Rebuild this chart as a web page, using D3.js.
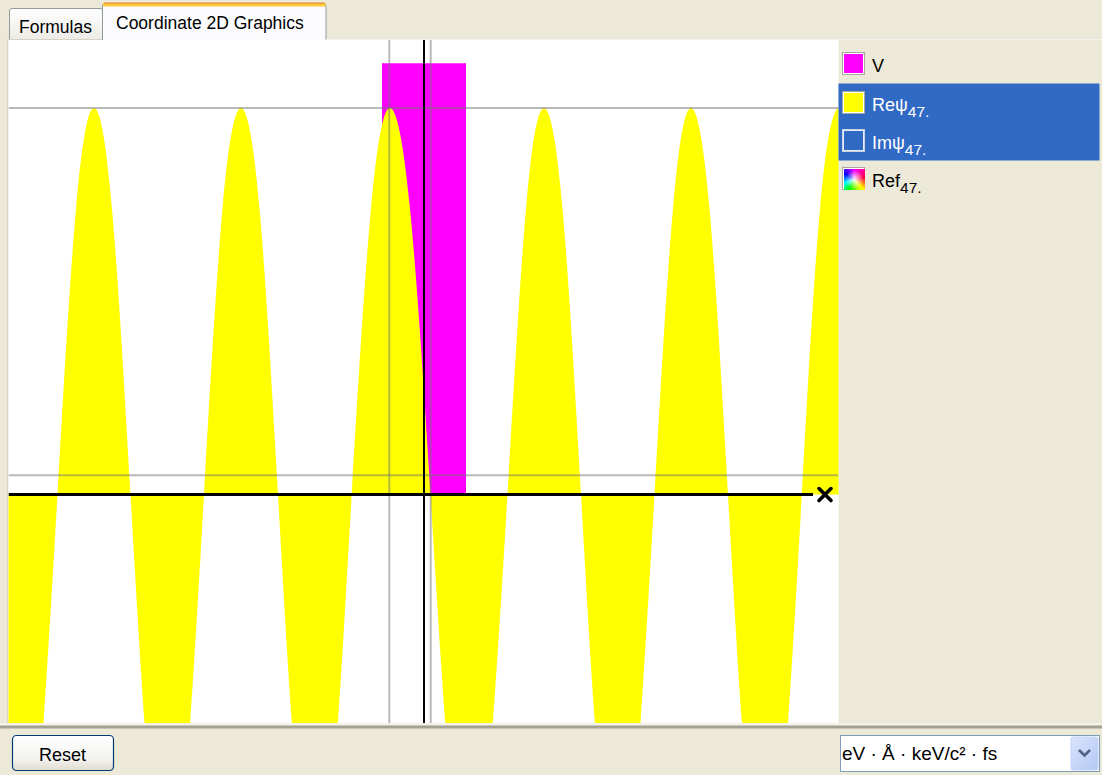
<!DOCTYPE html>
<html>
<head>
<meta charset="utf-8">
<script src="https://cdn.jsdelivr.net/npm/d3@7"></script>
<style>
  html, body { margin: 0; padding: 0; background: #ECE9D8; }
  body { width: 1102px; height: 775px; overflow: hidden; position: relative;
         font-family: "Liberation Sans", Arial, sans-serif; }
  svg { position: absolute; left: 0; top: 0; }
  #refSwatch { position: absolute; width: 21px; height: 21px;
    background: radial-gradient(circle at 50% 50%, rgba(255,255,255,0.95) 0%, rgba(255,255,255,0) 62%),
                conic-gradient(from 0deg, #ff00ff, #ff0040 80deg, #ffff00 140deg, #00ff00 210deg, #00ffff 250deg, #0000ff 300deg, #ff00ff 360deg); }
</style>
</head>
<body>
<svg id="chart" width="1102" height="775"></svg>
<div id="refSwatch"></div>
<script>
// Real part of the wave function: sample points (x in Å, normalised amplitude)
const waveX = [
  -4.40, -4.22, -4.03, -3.85, -3.665, -3.48, -3.30, -3.12, -2.935, -2.75, -2.57, -2.385,
  -2.20, -2.015, -1.83, -1.645, -1.46, -1.275, -1.09, -0.905, -0.723, -0.53, -0.34, -0.14,
  0.065, 0.26, 0.45, 0.64, 0.835, 1.02, 1.20, 1.385, 1.57, 1.755, 1.94, 2.12,
  2.305, 2.49, 2.67, 2.855, 3.04, 3.225, 3.41, 3.595, 3.778, 3.96, 4.15, 4.33, 4.515
];
const waveRe = [
  0, -0.74, -1.0, -0.74, 0, 0.74, 1.0, 0.74, 0, -0.74, -1.0, -0.74,
  0, 0.74, 1.0, 0.74, 0, -0.74, -1.0, -0.74, 0, 0.74, 1.0, 0.74,
  0, -0.74, -1.0, -0.74, 0, 0.74, 1.0, 0.74, 0, -0.74, -1.0, -0.74,
  0, 0.74, 1.0, 0.74, 0, -0.74, -1.0, -0.74, 0, 0.74, 1.0, 0.74, 0
];

// Rectangular potential barrier V(x)
const barrierX = [-0.42, -0.42, 0.42, 0.42];
const barrierV = [0, 1.116, 1.116, 0];

// Guide lines
const guideLevels = [1.0, 0.05];
const guideXs = [-0.347, 0.067];

// Legend
const legendNames = ["V", "Reψ", "Imψ", "Ref"];
const legendSubs = ["", "47.", "47.", "47."];
const legendSelected = [false, true, true, false];

// UI texts
const tabNames = ["Formulas", "Coordinate 2D Graphics"];
const buttonLabel = "Reset";
const unitLabel = "eV · Å · keV/c² · fs";

const svg = d3.select("#chart");
const defs = svg.append("defs");

const plot = { left: 8.5, right: 838.5, top: 40, bottom: 723 };

const x = d3.scaleLinear().domain([-4.155, 4.145]).range([plot.left, plot.right]);
const y = d3.scaleLinear().domain([-0.591, 1.176]).range([plot.bottom, plot.top]);

// ---------- gradients ----------
const gTab = defs.append("linearGradient").attr("id", "gTab").attr("x1", 0).attr("y1", 0).attr("x2", 0).attr("y2", 1);
gTab.append("stop").attr("offset", "0%").attr("stop-color", "#FFFFFF");
gTab.append("stop").attr("offset", "100%").attr("stop-color", "#ECEBE6");

const gBtn = defs.append("linearGradient").attr("id", "gBtn").attr("x1", 0).attr("y1", 0).attr("x2", 0).attr("y2", 1);
gBtn.append("stop").attr("offset", "0%").attr("stop-color", "#FFFFFF");
gBtn.append("stop").attr("offset", "70%").attr("stop-color", "#F3F2EE");
gBtn.append("stop").attr("offset", "100%").attr("stop-color", "#DEDBD0");

const gDrop = defs.append("linearGradient").attr("id", "gDrop").attr("x1", 0).attr("y1", 0).attr("x2", 1).attr("y2", 1);
gDrop.append("stop").attr("offset", "0%").attr("stop-color", "#D9E4FB");
gDrop.append("stop").attr("offset", "100%").attr("stop-color", "#B4C8F4");

defs.append("clipPath").attr("id", "plotClip")
  .append("rect").attr("x", plot.left).attr("y", plot.top)
  .attr("width", plot.right - plot.left).attr("height", plot.bottom - plot.top);

// ---------- tabs ----------
svg.append("path")
  .attr("d", "M9.5,40 V11 Q9.5,8.5 12,8.5 H100 Q102.5,8.5 102.5,11 V40")
  .attr("fill", "url(#gTab)").attr("stroke", "#919B9C");
svg.append("text").attr("x", 19).attr("y", 33).attr("font-size", 17.5).attr("fill", "#000").text(tabNames[0]);

svg.append("path")
  .attr("d", "M102.5,41 V6 Q102.5,3.5 105,3.5 H323.5 Q326,3.5 326,6 V41")
  .attr("fill", "#FCFCFE").attr("stroke", "#919B9C");
svg.append("rect").attr("x", 103).attr("y", 3).attr("width", 222.5).attr("height", 3.5).attr("fill", "#FFC83C");
svg.append("rect").attr("x", 104).attr("y", 2.5).attr("width", 220.5).attr("height", 1.2).attr("fill", "#E68B2C");
svg.append("text").attr("x", 116).attr("y", 29).attr("font-size", 17.5).attr("fill", "#000").text(tabNames[1]);

// panel edge under tabs
svg.append("line").attr("x1", 7).attr("x2", 102).attr("y1", 39.5).attr("y2", 39.5).attr("stroke", "#D6D3C6");
svg.append("line").attr("x1", 326).attr("x2", 1102).attr("y1", 39.5).attr("y2", 39.5).attr("stroke", "#F4F3EE");

// ---------- plot area ----------
svg.append("rect").attr("x", plot.left).attr("y", plot.top)
  .attr("width", plot.right - plot.left).attr("height", plot.bottom - plot.top)
  .attr("fill", "#FFFFFF");
svg.append("line").attr("x1", 7.5).attr("x2", 7.5).attr("y1", plot.top).attr("y2", plot.bottom)
  .attr("stroke", "#D9D6C8");

const g = svg.append("g").attr("clip-path", "url(#plotClip)");

// potential barrier
const barrier = barrierX.map((d, i) => ({ x: d, v: barrierV[i] }));
g.append("path")
  .datum(barrier)
  .attr("fill", "#FF00FF")
  .attr("d", d3.area().x(d => x(d.x)).y0(y(0)).y1(d => y(d.v)));

// Re ψ filled against the axis
const wave = waveX.map((d, i) => ({ x: d, v: waveRe[i] }));
g.append("path")
  .datum(wave)
  .attr("fill", "#FFFF00")
  .attr("d", d3.area().x(d => x(d.x)).y0(y(0)).y1(d => y(d.v)).curve(d3.curveNatural));

// guide lines
g.selectAll("line.hguide").data(guideLevels).join("line")
  .attr("class", "hguide")
  .attr("x1", plot.left).attr("x2", plot.right)
  .attr("y1", d => y(d)).attr("y2", d => y(d))
  .attr("stroke", "rgba(115,115,115,0.5)").attr("stroke-width", 2);
g.selectAll("line.vguide").data(guideXs).join("line")
  .attr("class", "vguide")
  .attr("y1", plot.top).attr("y2", plot.bottom)
  .attr("x1", d => x(d)).attr("x2", d => x(d))
  .attr("stroke", "rgba(115,115,115,0.5)").attr("stroke-width", 2);

// coordinate axes
g.append("line")
  .attr("x1", x(0)).attr("x2", x(0)).attr("y1", plot.top).attr("y2", plot.bottom)
  .attr("stroke", "#000").attr("stroke-width", 2);
g.append("line")
  .attr("x1", plot.left).attr("x2", x(3.89)).attr("y1", y(0)).attr("y2", y(0))
  .attr("stroke", "#000").attr("stroke-width", 3);

// axis end marker (x)
const mx = x(4.01), my = y(0);
g.append("path")
  .attr("d", `M${mx - 6},${my - 6} L${mx + 6},${my + 6} M${mx + 6},${my - 6} L${mx - 6},${my + 6}`)
  .attr("stroke", "#000").attr("stroke-width", 3.6).attr("stroke-linecap", "round");

// ---------- legend panel ----------
const rowY = [64, 103, 141, 179];
svg.append("rect").attr("x", 838.5).attr("y", 83.5).attr("width", 261).attr("height", 77).attr("fill", "#316AC5");

const swFill = ["#FF00FF", "#FFFF00", "none", "none"];
legendNames.forEach((name, i) => {
  const cy = rowY[i];
  const sw = svg.append("g");
  sw.append("rect").attr("x", 842.5).attr("y", cy - 11.5).attr("width", 22).attr("height", 22)
    .attr("fill", "none").attr("stroke", i === 2 ? "#C9D3E6" : "#A8A7A0").attr("stroke-width", 1);
  sw.append("rect").attr("x", 843.5).attr("y", cy - 10.5).attr("width", 20).attr("height", 20)
    .attr("fill", swFill[i]).attr("stroke", i === 2 ? "#E6ECF8" : "#FFFFFF").attr("stroke-width", 1);

  const t = svg.append("text").attr("x", 872).attr("y", cy + 7.5)
    .attr("font-size", 18).attr("fill", legendSelected[i] ? "#FFFFFF" : "#000000");
  t.append("tspan").text(name);
  if (legendSubs[i]) {
    t.append("tspan").attr("dy", 6).attr("font-size", 15.5).text(legendSubs[i]);
  }
});
d3.select("#refSwatch").style("left", "843.5px").style("top", (rowY[3] - 10.5) + "px");

// ---------- bottom bar ----------
svg.append("rect").attr("x", 0).attr("y", 723.5).attr("width", 1102).attr("height", 1.5).attr("fill", "#F6F5F0");
svg.append("rect").attr("x", 0).attr("y", 725.5).attr("width", 1102).attr("height", 3).attr("fill", "#A3A293");

// Reset button
svg.append("rect").attr("x", 12.5).attr("y", 735.5).attr("width", 101).attr("height", 35).attr("rx", 4)
  .attr("fill", "url(#gBtn)").attr("stroke", "#003C74").attr("stroke-width", 1.2);
svg.append("text").attr("x", 62.5).attr("y", 761).attr("text-anchor", "middle")
  .attr("font-size", 18).attr("fill", "#000").text(buttonLabel);

// unit system selector
svg.append("rect").attr("x", 840.5).attr("y", 735.5).attr("width", 259).attr("height", 36)
  .attr("fill", "#FFFFFF").attr("stroke", "#7F9DB9");
svg.append("rect").attr("x", 1071).attr("y", 737).attr("width", 27).attr("height", 33).attr("rx", 2)
  .attr("fill", "url(#gDrop)").attr("stroke", "#C3D3FD");
svg.append("path").attr("d", "M1079,750 L1084.5,755.5 L1090,750")
  .attr("fill", "none").attr("stroke", "#4D6185").attr("stroke-width", 2.6);
svg.append("text").attr("x", 842).attr("y", 760).attr("font-size", 19).attr("fill", "#000").text(unitLabel);
</script>
</body>
</html>
